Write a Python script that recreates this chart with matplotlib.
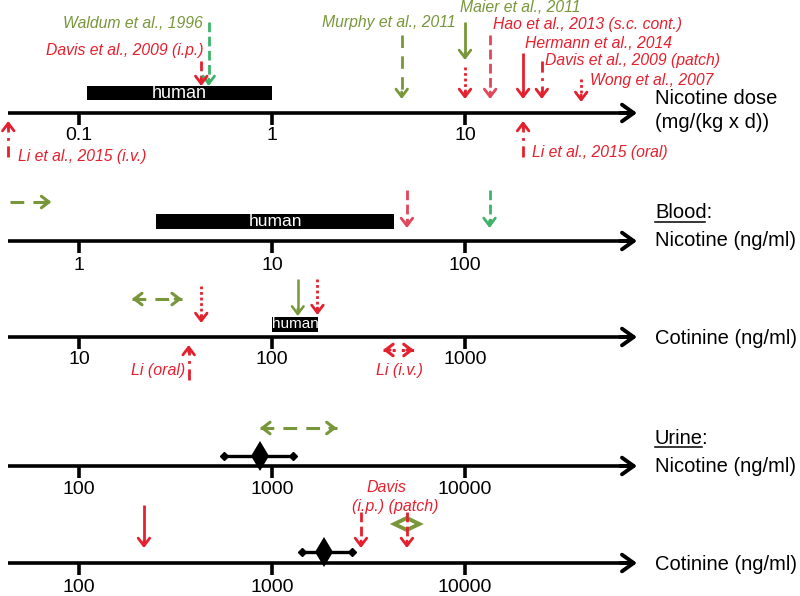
import numpy as np
import matplotlib
matplotlib.use("Agg")
import matplotlib.pyplot as plt

# ---------------- data ----------------
dose_ticks = [0.1, 1, 10]
blood_nic_ticks = [1, 10, 100]
blood_cot_ticks = [10, 100, 1000]
urine_nic_ticks = [100, 1000, 10000]
urine_cot_ticks = [100, 1000, 10000]

dose_human = (0.11, 1.0)
dose_waldum = 0.47
dose_davis_ip = 0.43
dose_murphy = 4.7
dose_maier = 10.0
dose_maier_red = 10.0
dose_hao = 13.5
dose_hermann = 20.0
dose_davis_patch = 25.0
dose_wong = 40.0
dose_li_iv = 0.043
dose_li_oral = 20.0

bnic_olive_range = (0.44, 0.72)
bnic_human = (2.5, 43.0)
bnic_red = 50.0
bnic_green = 134.0

bcot_olive_range = (18.8, 34.2)
bcot_red_dot1 = 43.0
bcot_human = (100.0, 174.0)
bcot_olive = 136.0
bcot_red_dot2 = 172.0
bcot_li_oral = 37.0
bcot_li_iv = (376.0, 543.0)

unic_olive_range = (866.0, 2165.0)
unic_mean = 866.0
unic_err = (565.0, 1284.0)

ucot_red = 217.0
ucot_mean = 1857.0
ucot_err = (1426.0, 2587.0)
ucot_davis_ip = 2890.0
ucot_davis_patch = 5000.0
ucot_olive_range = (4300.0, 5800.0)

# ---------------- styling ----------------
OLIVE = '#78973a'
RED = '#e5202e'
GREEN = '#3fb36a'
PINK = '#e2465a'
W, H = 800, 596
DEC = 193.0      # pixels per decade
T0PX = 79.0      # pixel of first tick
AX_X0, AX_X1 = 8.0, 637.0

REG = ['Liberation Sans', 'DejaVu Sans']

fig = plt.figure(figsize=(8.0, 5.96), dpi=100)
base = fig.add_axes([0, 0, 1, 1])
base.set_xlim(0, W)
base.set_ylim(H, 0)
base.set_autoscale_on(False)
base.axis('off')


def row_axes(t0):
    ax = fig.add_axes([0, 0, 1, 1])
    ax.set_xscale('log')
    l0 = np.log10(t0)
    ax.set_xlim(10 ** (l0 - T0PX / DEC), 10 ** (l0 + (W - T0PX) / DEC))
    ax.set_ylim(H, 0)
    ax.set_autoscale_on(False)
    ax.axis('off')
    ax.patch.set_alpha(0)
    return ax


def px2val(t0, px):
    return 10 ** (np.log10(t0) + (px - T0PX) / DEC)


def draw_axis(ax, t0, y, ticks, fs, label_dy=24):
    x0 = px2val(t0, AX_X0)
    x1 = px2val(t0, AX_X1)
    ax.plot([x0, px2val(t0, AX_X1 - 4)], [y, y], color='black', lw=2.6,
            solid_capstyle='butt')
    ax.annotate('', xy=(x1, y), xytext=(-12, 0), xycoords='data',
                textcoords='offset points',
                arrowprops=dict(arrowstyle='->,head_length=0.42,head_width=0.3',
                                color='black', lw=2.8, shrinkA=0, shrinkB=0,
                                mutation_scale=20))
    for t in ticks:
        ax.plot([t, t], [y, y + 12], color='black', lw=2.6, solid_capstyle='butt')
        ax.text(t, y + label_dy, '%g' % t, ha='center', va='center', fontsize=fs,
                family=REG)


def varrow(ax, x, y0, y1, color, ls, lw=2.0, head=7):
    d = 1 if y1 > y0 else -1
    ax.plot([x, x], [y0, y1 - d * 3], color=color, lw=lw, ls=ls,
            solid_capstyle='butt', dash_capstyle='butt')
    ax.annotate('', xy=(x, y1), xytext=(x, y1 - d * head),
                arrowprops=dict(arrowstyle='->,head_length=0.42,head_width=0.32',
                                color=color, lw=lw, shrinkA=0, shrinkB=0,
                                mutation_scale=13))


def harrow(ax, xa, xb, y, color, ls, lw=2.2, both=True):
    ax.plot([xa, xb], [y, y], color=color, lw=lw, ls=ls, dash_capstyle='butt')
    ax.annotate('', xy=(xb, y), xytext=(-5, 0), textcoords='offset points',
                arrowprops=dict(arrowstyle='->,head_length=0.42,head_width=0.32',
                                color=color, lw=lw, shrinkA=0, shrinkB=0,
                                mutation_scale=13))
    if both:
        ax.annotate('', xy=(xa, y), xytext=(5, 0), textcoords='offset points',
                    arrowprops=dict(arrowstyle='->,head_length=0.42,head_width=0.32',
                                    color=color, lw=lw, shrinkA=0, shrinkB=0,
                                    mutation_scale=13))


def human_bar(ax, rng, yc, h, fs):
    ax.barh([yc], [rng[1] - rng[0]], left=[rng[0]], height=h, color='black')
    xm = np.sqrt(rng[0] * rng[1])
    ax.text(xm, yc + 0.5, 'human', color='white', ha='center', va='center',
            fontsize=fs, family=REG)


def errdiamond(ax, mean, err, y):
    ax.plot([err[0], err[1]], [y, y], color='black', lw=2.4)
    ax.plot([err[0], err[1]], [y, y], ls='none', marker='D', ms=4.5,
            color='black')
    ax.plot([mean], [y], marker='d', ms=15, color='black', mew=0)


def range_diamond(ax, rng, y, half_h, color):
    lo, hi = rng
    mid = np.sqrt(lo * hi)
    ax.fill([lo, mid, hi, mid], [y, y - half_h, y, y + half_h], facecolor='none',
            edgecolor=color, lw=2.8, joinstyle='miter', zorder=1)


def itext(x, y, s, color, ha='left', fs=11.3):
    base.text(x, y, s, color=color, ha=ha, va='center', fontsize=fs,
              style='italic', family=REG)


def rlabel(y, s, underline=None):
    base.text(655, y, s, ha='left', va='center', fontsize=14.5, family=REG)
    if underline is not None:
        base.plot([655, 655 + underline], [y + 9, y + 9], color='black', lw=1.1)


DASH = (0, (3.5, 1.6))
LDASH = (0, (4.5, 3.0))
DOT = (0, (1.0, 1.0))
DDOT = (0, (4, 2, 1, 2))

# ---------------- row 1: dose ----------------
Y1 = 113
a1 = row_axes(dose_ticks[0])
draw_axis(a1, dose_ticks[0], Y1, dose_ticks, 14, label_dy=23)
human_bar(a1, dose_human, 93, 14, 13)
varrow(a1, dose_waldum, 22, 86, GREEN, DASH)
varrow(a1, dose_davis_ip, 61, 86, RED, DASH)
varrow(a1, dose_murphy, 35, 99, OLIVE, LDASH)
varrow(a1, dose_maier, 22, 60, OLIVE, '-')
varrow(a1, dose_maier_red, 67, 99, RED, DOT)
varrow(a1, dose_hao, 35, 99, PINK, DASH)
varrow(a1, dose_hermann, 53, 99, RED, '-')
varrow(a1, dose_davis_patch, 61, 99, RED, DDOT)
varrow(a1, dose_wong, 79, 102, RED, DOT)
varrow(a1, dose_li_iv, 157, 121, RED, DDOT)
varrow(a1, dose_li_oral, 157, 121, RED, DDOT)

itext(203, 23, 'Waldum et al., 1996', OLIVE, ha='right')
itext(203, 50, 'Davis et al., 2009 (i.p.)', RED, ha='right')
itext(456, 23, 'Murphy et al., 2011', OLIVE, ha='right')
itext(460, 8, 'Maier et al., 2011', OLIVE)
itext(493, 24, 'Hao et al., 2013 (s.c. cont.)', RED)
itext(525, 43, 'Hermann et al., 2014', RED)
itext(545, 61, 'Davis et al., 2009 (patch)', RED)
itext(590, 80, 'Wong et al., 2007', RED)
itext(18, 157, 'Li et al., 2015 (i.v.)', RED)
itext(532, 153, 'Li et al., 2015 (oral)', RED)
rlabel(98, 'Nicotine dose')
rlabel(123, '(mg/(kg x d))')

# ---------------- row 2: blood nicotine ----------------
Y2 = 241
a2 = row_axes(blood_nic_ticks[0])
draw_axis(a2, blood_nic_ticks[0], Y2, blood_nic_ticks, 14, label_dy=24)
human_bar(a2, bnic_human, 221, 15, 12.5)
harrow(a2, bnic_olive_range[0], bnic_olive_range[1], 202, OLIVE, LDASH, both=False)
varrow(a2, bnic_red, 190, 228, PINK, DASH)
varrow(a2, bnic_green, 190, 228, GREEN, DASH)
rlabel(213, 'Blood:', underline=50)
rlabel(241, 'Nicotine (ng/ml)')

# ---------------- row 3: blood cotinine ----------------
Y3 = 337
a3 = row_axes(blood_cot_ticks[0])
draw_axis(a3, blood_cot_ticks[0], Y3, blood_cot_ticks, 14, label_dy=23)
harrow(a3, bcot_olive_range[0], bcot_olive_range[1], 299, OLIVE, LDASH)
varrow(a3, bcot_red_dot1, 286, 323, RED, DOT)
human_bar(a3, bcot_human, 324, 15, 11)
varrow(a3, bcot_olive, 279, 316, OLIVE, '-', lw=1.8)
varrow(a3, bcot_red_dot2, 279, 315, RED, DOT)
varrow(a3, bcot_li_oral, 380, 345, RED, DDOT)
harrow(a3, bcot_li_iv[0], bcot_li_iv[1], 350, RED, (0, (1, 2)))
itext(185, 370, 'Li (oral)', RED, ha='right', fs=11.5)
itext(400, 370, 'Li (i.v.)', RED, ha='center', fs=11.5)
rlabel(339, 'Cotinine (ng/ml)')

# ---------------- row 4: urine nicotine ----------------
Y4 = 466
a4 = row_axes(urine_nic_ticks[0])
draw_axis(a4, urine_nic_ticks[0], Y4, urine_nic_ticks, 14, label_dy=24)
harrow(a4, unic_olive_range[0], unic_olive_range[1], 428, OLIVE, LDASH)
errdiamond(a4, unic_mean, unic_err, 456)
rlabel(438, 'Urine:', underline=47)
rlabel(466, 'Nicotine (ng/ml)')

# ---------------- row 5: urine cotinine ----------------
Y5 = 563
a5 = row_axes(urine_cot_ticks[0])
draw_axis(a5, urine_cot_ticks[0], Y5, urine_cot_ticks, 14, label_dy=24)
varrow(a5, ucot_red, 505, 548, RED, '-')
errdiamond(a5, ucot_mean, ucot_err, 552)
range_diamond(a5, ucot_olive_range, 524, 6, OLIVE)
varrow(a5, ucot_davis_ip, 512, 548, RED, DASH)
varrow(a5, ucot_davis_patch, 512, 548, RED, DASH)
itext(386, 487, 'Davis', RED, ha='center', fs=11.5)
itext(395, 507, '(i.p.) (patch)', RED, ha='center', fs=11.5)
rlabel(565, 'Cotinine (ng/ml)')

fig.savefig('out.png', dpi=100)
